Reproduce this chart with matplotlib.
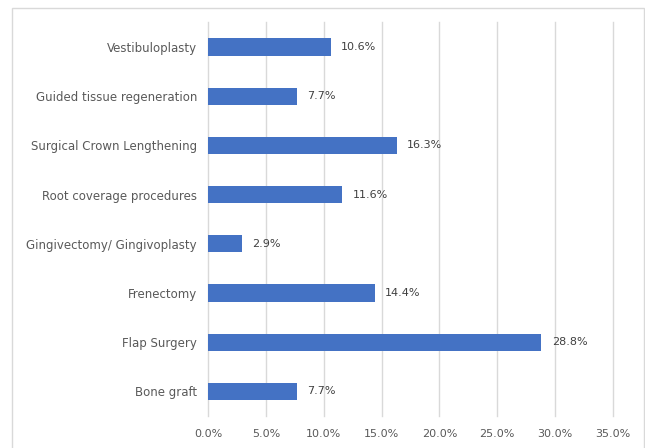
import matplotlib
matplotlib.use("Agg")
import matplotlib.pyplot as plt
from matplotlib.patches import Rectangle
from matplotlib.ticker import FuncFormatter, MultipleLocator

categories = ["Vestibuloplasty", "Guided tissue regeneration", "Surgical Crown Lengthening",
              "Root coverage procedures", "Gingivectomy/ Gingivoplasty", "Frenectomy",
              "Flap Surgery", "Bone graft"]
values = [10.6, 7.7, 16.3, 11.6, 2.9, 14.4, 28.8, 7.7]

W, H = 645, 448
fig = plt.figure(figsize=(W / 100, H / 100), dpi=100)
fig.patch.set_facecolor("white")
# outer chart border
fig.patches.append(Rectangle((12 / W, -0.01), (644 - 12) / W, (H - 8) / H + 0.01,
                             transform=fig.transFigure, fill=False,
                             edgecolor="#d9d9d9", linewidth=1.0))

ax = fig.add_axes([208 / W, 1 - 416 / H, (613 - 208) / W, (416 - 22.5) / H])
y = list(range(len(categories)))
ax.barh(y, values, height=0.35, color="#4472C4", zorder=3)
ax.set_yticks(y)
ax.set_yticklabels(categories)
ax.set_ylim(len(categories) - 0.5, -0.5)
ax.set_xlim(0, 35)
ax.xaxis.set_major_locator(MultipleLocator(5))
ax.xaxis.set_major_formatter(FuncFormatter(lambda v, p: f"{v:.1f}%"))
ax.grid(axis="x", color="#d9d9d9", linewidth=1.0, zorder=0)
for gl in ax.get_xgridlines():
    gl.set_clip_on(False)
for s in ax.spines.values():
    s.set_visible(False)
ax.tick_params(axis="both", length=0, colors="#595959", labelsize=8)
ax.tick_params(axis="y", pad=8, labelsize=8.5)
ax.tick_params(axis="x", pad=9)
for yi, v in zip(y, values):
    ax.text(v + 0.9, yi, f"{v:.1f}%", va="center", ha="left", fontsize=8, color="#404040")

fig.savefig("out.png", dpi=100)
